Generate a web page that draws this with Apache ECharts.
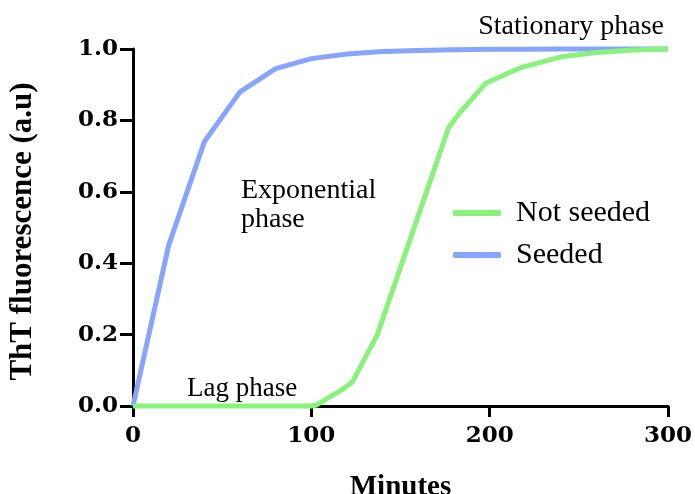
<!DOCTYPE html>
<html>
<head>
<meta charset="utf-8">
<script src="https://cdn.jsdelivr.net/npm/echarts@6/dist/echarts.min.js"></script>
<style>html,body{margin:0;padding:0;background:#fff;}#c{width:695px;height:494px;}</style>
</head>
<body>
<div id="c"></div>
<script>
var minutesNotSeeded = [0, 20, 40, 60, 80, 100, 103, 117, 123, 137, 157, 177, 183, 198, 217, 240, 260, 280, 300];
var valuesNotSeeded = [0, 0, 0, 0, 0, 0, 0.003, 0.045, 0.067, 0.2, 0.49, 0.78, 0.82, 0.905, 0.947, 0.978, 0.99, 0.997, 1.0];
var minutesSeeded = [0, 20, 40, 60, 80, 100, 120, 140, 160, 180, 200, 220, 240, 260, 280, 300];
var valuesSeeded = [0, 0.45, 0.74, 0.88, 0.945, 0.973, 0.986, 0.993, 0.996, 0.998, 0.999, 0.999, 1, 1, 1, 1];
var seriesNames = ['Not seeded', 'Seeded'];
var xTicks = [0, 100, 200, 300];
var yTicks = [0, 0.2, 0.4, 0.6, 0.8, 1.0];

function pairs(xs, ys) { return xs.map(function (x, i) { return [x, ys[i]]; }); }

var chart = echarts.init(document.getElementById('c'));
var serifText = 'Liberation Serif';
var tickFont = 'DejaVu Serif';
chart.setOption({
  animation: false,
  grid: { left: 133, right: 27, top: 49, bottom: 88, containLabel: false, outerBoundsMode: 'none' },
  legend: {
    data: seriesNames,
    orient: 'vertical',
    left: 448, top: 193,
    icon: 'roundRect',
    itemWidth: 48, itemHeight: 6,
    itemGap: 12,
    textStyle: { fontFamily: serifText, fontSize: 30, color: '#000', padding: [0, 0, 0, 10] }
  },
  xAxis: {
    type: 'value', min: xTicks[0], max: xTicks[xTicks.length - 1], interval: 100,
    name: 'Minutes', nameLocation: 'middle', nameGap: 67,
    nameTextStyle: { fontFamily: serifText, fontWeight: 'bold', fontSize: 29, color: '#000' },
    axisLine: { lineStyle: { color: '#000', width: 3 } },
    axisTick: { show: true, length: 11, lineStyle: { color: '#000', width: 3 } },
    axisLabel: { margin: 19, fontFamily: tickFont, fontWeight: 'bold', fontSize: 23, color: '#000' },
    splitLine: { show: false }
  },
  yAxis: {
    type: 'value', min: yTicks[0], max: yTicks[yTicks.length - 1], interval: 0.2,
    name: 'ThT fluorescence (a.u)', nameLocation: 'middle', nameGap: 95,
    nameTextStyle: { fontFamily: serifText, fontWeight: 'bold', fontSize: 31, color: '#000', padding: [0, 8, 0, 0] },
    axisLine: { show: true, lineStyle: { color: '#000', width: 3 } },
    axisTick: { show: true, length: 13, lineStyle: { color: '#000', width: 3 } },
    axisLabel: { margin: 15, fontFamily: tickFont, fontWeight: 'bold', fontSize: 23, color: '#000',
      formatter: function (v) { return v.toFixed(1); } },
    splitLine: { show: false }
  },
  series: [
    {
      name: seriesNames[0], type: 'line', data: pairs(minutesNotSeeded, valuesNotSeeded),
      symbol: 'none', clip: false, z: 4,
      lineStyle: { color: '#88f27c', width: 5 }, itemStyle: { color: '#88f27c' }
    },
    {
      name: seriesNames[1], type: 'line', data: pairs(minutesSeeded, valuesSeeded),
      symbol: 'none', clip: false, z: 3,
      lineStyle: { color: '#87a4fe', width: 5 }, itemStyle: { color: '#87a4fe' }
    }
  ],
  graphic: [
    { type: 'text', right: 31, top: 13, style: { text: 'Stationary phase', font: '28px "Liberation Serif"', fill: '#000' } },
    { type: 'text', left: 241, top: 176, style: { text: 'Exponential\nphase', font: '28px "Liberation Serif"', lineHeight: 29, fill: '#000' } },
    { type: 'text', left: 187, top: 375, style: { text: 'Lag phase', font: '27px "Liberation Serif"', fill: '#000' } }
  ]
});
</script>
</body>
</html>
